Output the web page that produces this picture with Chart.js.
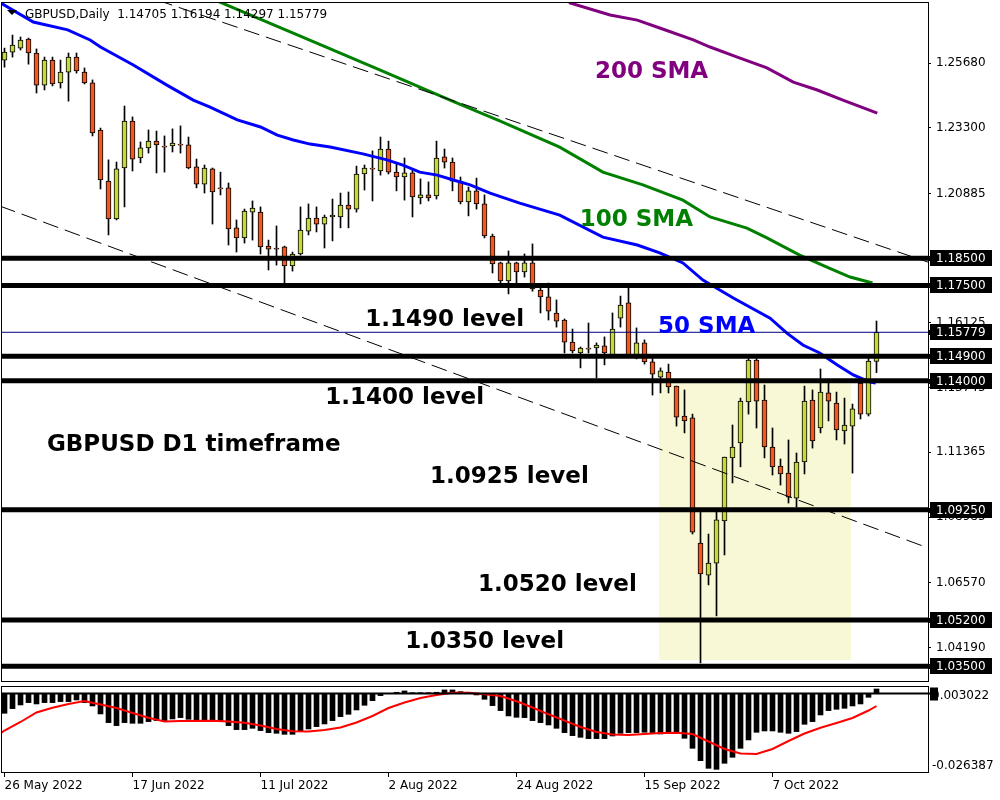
<!DOCTYPE html>
<html>
<head>
<meta charset="utf-8">
<script src="https://cdn.jsdelivr.net/npm/chart.js@4.4.0/dist/chart.umd.min.js"></script>
<style>
  body { margin: 0; background: #fff; }
  #wrap { position: relative; width: 1000px; height: 800px; }
  #mainChart { position: absolute; left: 0; top: 0; }
  #macdChart { position: absolute; left: 0; top: 684px; }
</style>
</head>
<body>
<div id="wrap">
  <canvas id="mainChart" width="1000" height="684"></canvas>
  <canvas id="macdChart" width="1000" height="116"></canvas>
</div>
<script>
// x axis (bar index) labels
const xLabelIdx = [0, 16, 32, 48, 64, 80, 96];
const xLabels = ['26 May 2022', '17 Jun 2022', '11 Jul 2022', '2 Aug 2022', '24 Aug 2022', '15 Sep 2022', '7 Oct 2022'];

// daily candles, 26 May 2022 .. 26 Oct 2022
const opens = [
  1.2579, 1.2608, 1.2623, 1.2656, 1.2605, 1.2487, 1.2579, 1.2495, 1.2535, 1.2590,
  1.2535, 1.2495, 1.2322, 1.2134, 1.1995, 1.2182, 1.2355, 1.2219, 1.2256, 1.2281,
  1.2263, 1.2263, 1.2270, 1.2267, 1.2186, 1.2123, 1.2179, 1.2109, 1.2109, 1.1962,
  1.1925, 1.2020, 1.2020, 1.1895, 1.1888, 1.1892, 1.1822, 1.1866, 1.1950, 1.1998,
  1.1976, 1.2002, 1.2002, 1.2046, 1.2031, 1.2160, 1.2182, 1.2171, 1.2252, 1.2167,
  1.2149, 1.2164, 1.2072, 1.2083, 1.2079, 1.2223, 1.2204, 1.2134, 1.2057, 1.2098,
  1.2050, 1.1932, 1.1833, 1.1767, 1.1833, 1.1800, 1.1833, 1.1733, 1.1708, 1.1649,
  1.1623, 1.1542, 1.1502, 1.1520, 1.1520, 1.1528, 1.1494, 1.1630, 1.1686, 1.1494,
  1.1539, 1.1469, 1.1413, 1.1432, 1.1380, 1.1270, 1.1263, 1.0803, 1.0685, 1.0729,
  1.0884, 1.1116, 1.1171, 1.1322, 1.1476, 1.1329, 1.1156, 1.1086, 1.1060, 1.0968,
  1.1101, 1.1329, 1.1226, 1.1355, 1.1318, 1.1215, 1.1233, 1.1391, 1.1277, 1.14705
];
const highs = [
  1.2623, 1.2671, 1.2664, 1.2660, 1.2620, 1.2590, 1.2590, 1.2579, 1.2605, 1.2605,
  1.2550, 1.2506, 1.2329, 1.2212, 1.2204, 1.2410, 1.2370, 1.2278, 1.2322, 1.2318,
  1.2300, 1.2326, 1.2337, 1.2296, 1.2215, 1.2193, 1.2182, 1.2167, 1.2127, 1.1991,
  1.2031, 1.2061, 1.2039, 1.1917, 1.1969, 1.1895, 1.1873, 1.2039, 1.2050, 1.2039,
  1.2009, 1.2068, 1.2090, 1.2094, 1.2189, 1.2193, 1.2245, 1.2296, 1.2281, 1.2201,
  1.2219, 1.2175, 1.2142, 1.2131, 1.2281, 1.2252, 1.2219, 1.2149, 1.2112, 1.2145,
  1.2083, 1.1939, 1.1836, 1.1877, 1.1836, 1.1866, 1.1903, 1.1740, 1.1759, 1.1697,
  1.1627, 1.1590, 1.1524, 1.1612, 1.1539, 1.1561, 1.1649, 1.1711, 1.1740, 1.1594,
  1.1550, 1.1483, 1.1447, 1.1461, 1.1380, 1.1366, 1.1277, 1.0917, 1.0836, 1.0917,
  1.1119, 1.1237, 1.1336, 1.1491, 1.1491, 1.1384, 1.1226, 1.1112, 1.1182, 1.1134,
  1.1380, 1.1366, 1.1443, 1.1391, 1.1358, 1.1336, 1.1314, 1.1402, 1.1487, 1.16194
];
const lows = [
  1.2553, 1.2590, 1.2616, 1.2564, 1.2458, 1.2469, 1.2484, 1.2476, 1.2428, 1.2531,
  1.2491, 1.2300, 1.2105, 1.1936, 1.1991, 1.2039, 1.2171, 1.2201, 1.2237, 1.2164,
  1.2167, 1.2241, 1.2237, 1.2179, 1.2109, 1.2090, 1.1976, 1.2083, 1.1899, 1.1873,
  1.1906, 1.1917, 1.1866, 1.1807, 1.1825, 1.1759, 1.1803, 1.1862, 1.1936, 1.1947,
  1.1888, 1.1914, 1.1962, 1.1962, 1.2020, 1.2101, 1.2061, 1.2156, 1.2160, 1.2098,
  1.2064, 1.2002, 1.2050, 1.2061, 1.2068, 1.2182, 1.2098, 1.2050, 1.2006, 1.2031,
  1.1925, 1.1796, 1.1759, 1.1719, 1.1759, 1.1781, 1.1729, 1.1649, 1.1623, 1.1597,
  1.1502, 1.1502, 1.1447, 1.1502, 1.1410, 1.1458, 1.1491, 1.1597, 1.1487, 1.1480,
  1.1461, 1.1347, 1.1355, 1.1355, 1.1233, 1.1208, 1.0836, 1.0362, 1.0649, 1.0535,
  1.0759, 1.1024, 1.1083, 1.1277, 1.1226, 1.1116, 1.1053, 1.1016, 1.0950, 1.0935,
  1.1057, 1.1152, 1.1208, 1.1252, 1.1182, 1.1167, 1.1060, 1.1259, 1.1270, 1.14297
];
const closes = [
  1.2608, 1.2634, 1.2653, 1.2605, 1.2487, 1.2579, 1.2491, 1.2535, 1.2590, 1.2539,
  1.2495, 1.2311, 1.2138, 1.1995, 1.2179, 1.2355, 1.2215, 1.2256, 1.2281, 1.2267,
  1.2259, 1.2274, 1.2266, 1.2182, 1.2123, 1.2182, 1.2094, 1.2105, 1.1958, 1.1925,
  1.2024, 1.2035, 1.1892, 1.1884, 1.1884, 1.1822, 1.1866, 1.1954, 1.1998, 1.1976,
  1.2002, 1.2009, 1.2046, 1.2031, 1.2160, 1.2182, 1.2178, 1.2252, 1.2167, 1.2149,
  1.2164, 1.2076, 1.2083, 1.2072, 1.2219, 1.2204, 1.2134, 1.2057, 1.2098, 1.2050,
  1.1932, 1.1829, 1.1767, 1.1833, 1.1800, 1.1833, 1.1737, 1.1708, 1.1656, 1.1619,
  1.1542, 1.1509, 1.1520, 1.1516, 1.1531, 1.1502, 1.1590, 1.1678, 1.1494, 1.1539,
  1.1469, 1.1424, 1.1436, 1.1377, 1.1266, 1.1252, 1.0843, 1.0689, 1.0729, 1.0888,
  1.1119, 1.1156, 1.1325, 1.1476, 1.1325, 1.1156, 1.1083, 1.1057, 1.0972, 1.1101,
  1.1325, 1.1178, 1.1358, 1.1325, 1.1219, 1.1237, 1.1296, 1.1277, 1.1472, 1.15779
];

// moving averages (bar index, price)
const sma50Idx = [-0.5, 3.6, 7.9, 10.7, 12, 16.1, 20.3, 23.6, 25.7, 29.1, 32, 34.1, 36.1, 38.2, 40.7, 44.8, 47.8, 49.8, 51.9, 54.1, 56.1, 58.2, 60.7, 64.4, 69.4, 74.8, 79.1, 81.9, 84.8, 87.3, 91.1, 95.7, 97.8, 99.8, 101.9, 104.1, 106.1, 108.2, 108.9];
const sma50 = [1.2789, 1.2719, 1.2690, 1.2653, 1.2627, 1.2561, 1.2487, 1.2432, 1.2406, 1.2359, 1.2333, 1.2303, 1.2285, 1.2270, 1.2259, 1.2234, 1.2212, 1.2193, 1.2167, 1.2156, 1.2138, 1.2120, 1.2090, 1.2053, 1.2009, 1.1928, 1.1899, 1.1870, 1.1833, 1.1770, 1.1704, 1.1630, 1.1575, 1.1531, 1.1502, 1.1458, 1.1421, 1.1395, 1.1391];
const sma100Idx = [24.4, 26.3, 36.9, 46.9, 55.7, 61.9, 69.4, 74.8, 79.8, 84.8, 88.2, 92.8, 95.3, 99.4, 102.8, 105.7, 108.5];
const sma100 = [1.2822, 1.2800, 1.2668, 1.2543, 1.2432, 1.2355, 1.2259, 1.2167, 1.2120, 1.2064, 1.2002, 1.1961, 1.1925, 1.1862, 1.1818, 1.1781, 1.1759];
const sma200Idx = [70.0, 70.7, 75.7, 79.1, 81.9, 86.1, 88.2, 91.6, 95.3, 98.6, 101.6, 104.8, 109.1];
const sma200 = [1.2820, 1.2789, 1.2745, 1.2726, 1.2697, 1.2653, 1.2627, 1.2590, 1.2550, 1.2498, 1.2469, 1.2432, 1.2384];

// trend lines (two points each) and horizontal levels
const trendUpperIdx = [19.06, 115.44];
const trendUpper = [1.2800, 1.1836];
const trendLowerIdx = [-0.56, 115.44];
const trendLower = [1.2042, 1.0785];
const levels = [1.185, 1.175, 1.149, 1.14, 1.0925, 1.052, 1.035];
const lastPrice = 1.15779;
const zoneIdx = [81.8, 105.8];
const zoneTop = 1.14;
const zoneBottom = 1.0373;
const yTicks = [1.2568, 1.233, 1.20885, 1.16125, 1.13745, 1.11365, 1.08985, 1.0657, 1.0419];

// MACD(12,26,9)
const macdHist = [
  -0.00694, -0.00532, -0.00405, -0.00324, -0.00370, -0.00324, -0.00324, -0.00289, -0.00289, -0.00231,
  -0.00324, -0.00440, -0.00717, -0.01018, -0.01122, -0.01018, -0.01041, -0.01041, -0.00983, -0.00948,
  -0.00948, -0.00891, -0.00844, -0.00902, -0.00948, -0.00948, -0.00948, -0.00983, -0.01122, -0.01260,
  -0.01260, -0.01215, -0.01295, -0.01365, -0.01388, -0.01423, -0.01423, -0.01330, -0.01238, -0.01157,
  -0.01064, -0.00948, -0.00810, -0.00729, -0.00578, -0.00416, -0.00255, -0.00081, -0.00010, 0.00035,
  0.00081, 0.00020, 0.00020, 0.00020, 0.00035, 0.00116, 0.00116, 0.00058, 0.00035, -0.00058,
  -0.00208, -0.00428, -0.00601, -0.00786, -0.00833, -0.00844, -0.00948, -0.01018, -0.01099, -0.01215,
  -0.01365, -0.01469, -0.01527, -0.01573, -0.01573, -0.01573, -0.01481, -0.01388, -0.01365, -0.01365,
  -0.01353, -0.01365, -0.01411, -0.01365, -0.01388, -0.01562, -0.01909, -0.02337, -0.02603, -0.02639,
  -0.02429, -0.02221, -0.01909, -0.01619, -0.01353, -0.01307, -0.01307, -0.01353, -0.01388, -0.01330,
  -0.01076, -0.00983, -0.00752, -0.00601, -0.00555, -0.00521, -0.00440, -0.00370, -0.00139, 0.00150
];
const signalIdx = [-0.5, 0, 2, 4, 6, 8, 10, 12, 14, 16, 18, 20, 22, 26, 28, 30, 32, 34, 36, 38, 40, 42, 44, 46, 48, 50, 52, 54, 56, 58, 60, 62, 64, 66, 68, 70, 72, 74, 76, 78, 80, 82, 84, 86, 88, 90, 92, 94, 96, 98, 100, 102, 104, 106, 108, 109];
const signal = [-0.01388, -0.01291, -0.00996, -0.00666, -0.00503, -0.00371, -0.00267, -0.00389, -0.00510, -0.00684, -0.00847, -0.00979, -0.00961, -0.00951, -0.00975, -0.01024, -0.01117, -0.01239, -0.01315, -0.01329, -0.01273, -0.01187, -0.01013, -0.00788, -0.00510, -0.00319, -0.00163, -0.00059, 0.00021, 0.00021, -0.00031, -0.00094, -0.00278, -0.00493, -0.00729, -0.00947, -0.01169, -0.01343, -0.01430, -0.01447, -0.01412, -0.01378, -0.01367, -0.01412, -0.01673, -0.01933, -0.02089, -0.02106, -0.01933, -0.01655, -0.01395, -0.01194, -0.01031, -0.00857, -0.00597, -0.00441];

// text notes on the chart (bar index, price)
const notes = [
  { text: '200 SMA', x: 73.8, y: 1.2513, color: '#800080' },
  { text: '100 SMA', x: 71.9, y: 1.1969, color: '#008000' },
  { text: '50 SMA', x: 81.7, y: 1.1575, color: '#0000ff' },
  { text: '1.1490 level', x: 45.1, y: 1.1601, color: '#000' },
  { text: '1.1400 level', x: 40.1, y: 1.1314, color: '#000' },
  { text: 'GBPUSD D1 timeframe', x: 5.3, y: 1.1141, color: '#000' },
  { text: '1.0925 level', x: 53.2, y: 1.1024, color: '#000' },
  { text: '1.0520 level', x: 59.2, y: 1.0626, color: '#000' },
  { text: '1.0350 level', x: 50.1, y: 1.0417, color: '#000' }
];

const BULL = '#c6d83c';
const BEAR = '#f0591f';
const X_MIN = -0.3125, X_MAX = 115.4375;
const AXIS_FONT = '12px "DejaVu Sans"';

Chart.defaults.font.family = '"DejaVu Sans", sans-serif';
Chart.defaults.font.size = 12;
Chart.defaults.color = '#000';
Chart.defaults.plugins.legend.display = false;
Chart.defaults.plugins.tooltip.enabled = false;

const pts = (xs, ys) => xs.map((x, i) => ({ x: x, y: ys[i] }));
const idx = opens.map((_, i) => i);

function lineSet(data, color, width, order, extra) {
  return Object.assign({
    type: 'line', data: data, borderColor: color, borderWidth: width,
    pointRadius: 0, tension: 0, fill: false, order: order
  }, extra || {});
}

const mainSets = [
  lineSet(pts(zoneIdx, [zoneTop, zoneTop]), 'rgba(0,0,0,0)', 0, 20,
    { fill: { value: zoneBottom }, backgroundColor: '#f8f8d6' }),
  {
    type: 'bar', data: idx.map(i => ({ x: i, y: [lows[i], highs[i]] })),
    backgroundColor: '#000', barThickness: 1, grouped: false, order: 15
  },
  {
    type: 'bar', data: idx.map(i => ({ x: i, y: [opens[i], closes[i]] })),
    backgroundColor: idx.map(i => closes[i] >= opens[i] ? BULL : BEAR),
    borderColor: '#000', borderWidth: 1, borderSkipped: false,
    barThickness: 5, grouped: false, order: 14
  },
  lineSet(pts(sma200Idx, sma200), '#800080', 3, 10),
  lineSet(pts(sma100Idx, sma100), '#008000', 3, 10),
  lineSet(pts(sma50Idx, sma50), '#0000ff', 3, 10),
  lineSet(pts(trendUpperIdx, trendUpper), '#000', 1, 8, { borderDash: [16, 7] }),
  lineSet(pts(trendLowerIdx, trendLower), '#000', 1, 8, { borderDash: [16, 7] }),
  lineSet(pts([X_MIN, X_MAX], [lastPrice, lastPrice]), '#000080', 1, 6)
];
levels.forEach(v => mainSets.push(lineSet(pts([X_MIN, X_MAX + 1], [v, v]), '#000', 5, 4)));

// frame, notes, header and the black price boxes on the right
const mainOverlay = {
  id: 'mainOverlay',
  afterDatasetsDraw(chart) {
    const { ctx, chartArea: a } = chart;
    const x = chart.scales.x, y = chart.scales.y;
    ctx.save();
    ctx.strokeStyle = '#000';
    ctx.lineWidth = 1;
    ctx.strokeRect(a.left - 0.5, a.top + 0.5, a.right - a.left + 1, a.bottom - a.top);

    ctx.font = 'bold 23px "DejaVu Sans"';
    ctx.textBaseline = 'alphabetic';
    notes.forEach(n => {
      ctx.fillStyle = n.color;
      ctx.fillText(n.text, x.getPixelForValue(n.x), y.getPixelForValue(n.y));
    });

    // header
    ctx.fillStyle = '#000';
    ctx.beginPath();
    ctx.moveTo(7, 10); ctx.lineTo(17, 10); ctx.lineTo(12, 15); ctx.closePath();
    ctx.fill();
    ctx.font = AXIS_FONT;
    ctx.fillText('GBPUSD,Daily  ' + [opens[109], highs[109], lows[109], closes[109]].map(v => v.toFixed(5)).join(' '), 25, 18);

    // price boxes
    ctx.textBaseline = 'middle';
    levels.concat([lastPrice]).forEach(v => {
      const py = Math.round(y.getPixelForValue(v));
      ctx.fillStyle = '#000';
      ctx.fillRect(928, py - 2, 4, 5);
      ctx.fillRect(930, py - 8, 62, 16);
      ctx.fillStyle = '#fff';
      ctx.fillText(v.toFixed(5), 936, py + 1);
    });
    ctx.restore();
  }
};

new Chart(document.getElementById('mainChart'), {
  type: 'bar',
  data: { datasets: mainSets },
  options: {
    responsive: false,
    animation: false,
    events: [],
    layout: { padding: { left: 2, top: 2, right: 0, bottom: 3 } },
    scales: {
      x: { type: 'linear', min: X_MIN, max: X_MAX, offset: false, grid: { offset: false }, display: false },
      y: {
        type: 'linear', position: 'right', min: 1.02955, max: 1.27926,
        afterBuildTicks: s => { s.ticks = yTicks.map(v => ({ value: v })); },
        afterFit: s => { s.width = 72; s.paddingTop = 0; s.paddingBottom = 0; },
        grid: { drawOnChartArea: false, drawTicks: true, tickLength: 3, color: '#000' },
        border: { display: true, color: '#000' },
        ticks: { font: { size: 12 }, color: '#000', padding: 5, callback: v => v.toFixed(5) }
      }
    }
  },
  plugins: [mainOverlay]
});

// MACD sub window
const macdOverlay = {
  id: 'macdOverlay',
  afterDatasetsDraw(chart) {
    const { ctx, chartArea: a } = chart;
    const y = chart.scales.y;
    ctx.save();
    ctx.strokeStyle = '#000';
    ctx.lineWidth = 1;
    ctx.strokeRect(a.left - 0.5, a.top + 0.5, a.right - a.left + 1, a.bottom - a.top);
    const y0 = Math.round(y.getPixelForValue(0)) + 0.5;
    ctx.lineWidth = 2;
    ctx.beginPath(); ctx.moveTo(a.left, y0); ctx.lineTo(a.right + 3, y0); ctx.stroke();
    ctx.font = AXIS_FONT;
    ctx.textBaseline = 'middle';
    ctx.fillStyle = '#000';
    ctx.fillRect(930, y0 - 6, 8, 13);
    ctx.fillText('0.003022', 932, y0 + 2);
    ctx.fillText('-0.026387', 932, a.bottom - 6);
    ctx.restore();
  }
};

new Chart(document.getElementById('macdChart'), {
  type: 'bar',
  data: {
    datasets: [
      {
        type: 'bar', data: idx.map(i => ({ x: i, y: macdHist[i] })),
        backgroundColor: '#000', barThickness: 5, grouped: false, order: 5
      },
      lineSet(pts(signalIdx, signal), '#ff0000', 2, 1)
    ]
  },
  options: {
    responsive: false,
    animation: false,
    events: [],
    layout: { padding: { left: 2, top: 2, right: 0, bottom: 0 } },
    scales: {
      x: {
        type: 'linear', position: 'bottom', min: X_MIN, max: X_MAX, offset: false,
        afterBuildTicks: s => { s.ticks = xLabelIdx.map(v => ({ value: v })); },
        afterFit: s => { s.height = 28; s.paddingLeft = 0; s.paddingRight = 0; },
        grid: { offset: false, drawOnChartArea: false, drawTicks: true, tickLength: 5, color: '#000' },
        border: { display: true, color: '#000' },
        ticks: {
          autoSkip: false, maxRotation: 0, align: 'start', padding: 2, color: '#000',
          font: { size: 12 }, callback: (v, i) => xLabels[i]
        }
      },
      y: {
        type: 'linear', position: 'right', min: -0.02731, max: 0.00253,
        afterFit: s => { s.width = 72; s.paddingTop = 0; s.paddingBottom = 0; },
        grid: { drawOnChartArea: false, drawTicks: false },
        border: { display: true, color: '#000' },
        ticks: { display: false }
      }
    }
  },
  plugins: [macdOverlay]
});
</script>
</body>
</html>
